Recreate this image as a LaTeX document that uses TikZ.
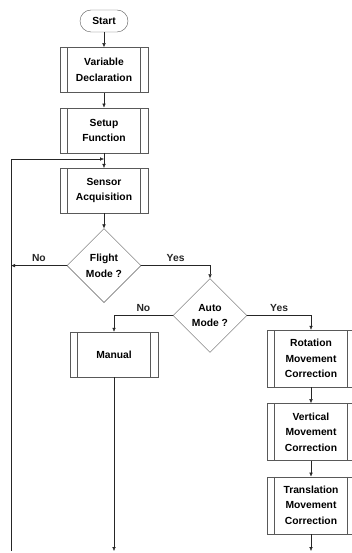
\documentclass[tikz,border=0pt]{standalone}
\usepackage{fontspec}
\setmainfont{Liberation Sans}
\usetikzlibrary{arrows.meta, positioning, shapes.geometric}

\begin{document}
\begin{tikzpicture}[
  x = 1pt, y = 1pt,
  node distance = 15pt,
  font = \fontsize{10.3}{15.5}\selectfont\bfseries,
  term/.style = {draw=black!65, rounded corners=11pt, minimum width=48pt, minimum height=22pt, inner sep=0pt},
  box/.style = {draw=black!65, align=center, minimum width=88pt, minimum height=45pt, inner sep=0pt,
    path picture={\draw[black!65] ([xshift=7.5pt]path picture bounding box.north west) -- ([xshift=7.5pt]path picture bounding box.south west)
      ([xshift=-7.5pt]path picture bounding box.north east) -- ([xshift=-7.5pt]path picture bounding box.south east);}},
  tallbox/.style = {box, minimum height=57pt},
  decision/.style = {draw=black!65, diamond, aspect=1, align=center, minimum width=74pt, minimum height=74pt, inner sep=0pt},
  arrow/.style = {-{Latex[length=4pt,width=3.5pt]}, black!85}
]
\useasboundingbox (0,0) rectangle (351,-553);
\node[term] (St) at (104,-21) {Start};
\node[box, below=of St] (Var) {Variable\\Declaration};
\node[box, below=of Var] (Set) {Setup\\Function};
\node[box, below=of Set] (Sen) {Sensor\\Acquisition};
\node[decision, below=of Sen] (FM) {Flight\\Mode ?};
\node[decision] (AM) at (210,-315.5) {Auto\\Mode ?};
\node[box] (Man) at (114,-354.5) {Manual};
\node[tallbox] (Rot) at (311,-358.5) {Rotation\\Movement\\Correction};
\node[tallbox, below=16pt of Rot] (Ver) {Vertical\\Movement\\Correction};
\node[tallbox, below=16pt of Ver] (Tra) {Translation\\Movement\\Correction};
\coordinate (J) at (104,-159);
\coordinate (B) at (11,-551);

\draw[arrow] (St) -- (Var);
\draw[arrow] (Var) -- (Set);
\draw[arrow] (Set) -- (Sen);
\draw[arrow] (Sen) -- (FM);
\draw[arrow] (B) |- (J);
\draw[arrow] (FM) -- node[above] {No} (FM.west -| B);
\draw[arrow] (FM) -| node[above, pos=0.25] {Yes} (AM);
\draw[arrow] (AM) -| node[above, pos=0.25] {No} (Man);
\draw[arrow] (AM) -| node[above, pos=0.25] {Yes} (Rot);
\draw[arrow] (Rot) -- (Ver);
\draw[arrow] (Ver) -- (Tra);
\draw[arrow] (Man) -- (Man |- B);
\draw[arrow] (Tra) -- (Tra |- B);
\end{tikzpicture}
\end{document}
